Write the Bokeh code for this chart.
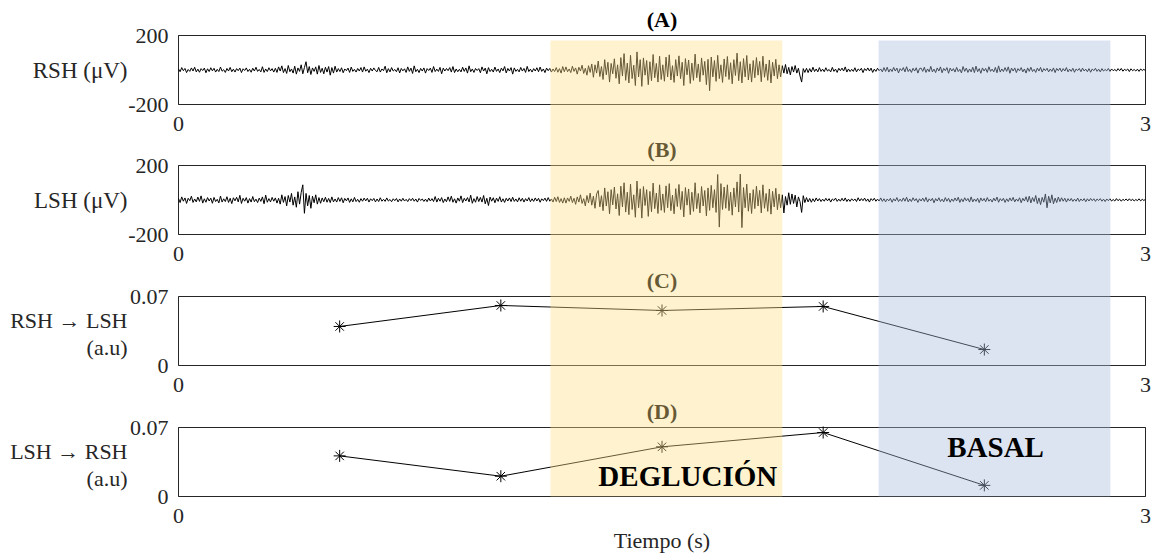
import numpy as np
from bokeh.plotting import figure
from bokeh.models import Range1d
from bokeh.core.properties import value
from bokeh.embed import file_html
from bokeh.resources import INLINE

# ---------------- data ----------------
t_start, t_end = 0, 3
time_ticks = [0, 3]
emg_ticks = [-200, 200]
gc_ticks = [0, 0.07]

rsh = [
    6, -10, 14, -4, 9, -15, 3, -8, 12, -6, 16, -11, 5, -13, 8, -3, 11, -16, 7, -9,
    13, -5, 10, -12, 4, -9, 17, -7, 2, -14, 9, -6, 15, -10, 5, -12, 8, -4, 11, -15,
    7, -3, 12, -9, 4, -13, 10, -6, 16, -8, 3, -11, 19, -14, 6, -9, 13, -5, 8, -12,
    10, -14, 18, -6, 24, -15, 8, -20, 26, -10, 6, -18, 22, -24, 12, -8, 30, -22, 14, 48,
    -16, 20, -26, 12, -8, 18, -24, 26, -14, 10, -22, 16, -12, 20, -30, 14, -18, 22, -12, 8,
    -9, 13, -16, 6, -4, 11, -14, 17, -8, 4, -12, 9, -6, 14, -12, 18, -7, 5, -15, 10,
    -6, 12, -3, -10, 15, -12, 6, -4, 22, -16, 8, -11, 14, -6, 3, -10, 13, -17, 9, -5,
    7, -14, 18, -8, 11, -20, 24, -10, 4, -15, 9, -6, 12, -18, 8, -3, 11, -14, 20, -9,
    5, -8, 15, -22, 11, -6, 9, -4, 14, -12, 20, -15, 6, -10, 4, -11, 16, -8, 12, -18,
    24, -10, 6, -14, 9, -3, 8, -16, 18, -6, 11, -22, 14, -9, 4, -12, 17, -8, 6, -15,
    11, -5, 20, -17, 9, -6, 14, -24, 12, -8, 4, -11, 15, -6, 9, -14, 21, -9, 5, -12,
    8, -6, 13, -10, 17, -8, 6, -15, 11, -4, 9, -12, 6, -9, 14, -13, 8, -18, 20, -10,
    18, -10, 6, -15, 22, -8, 12, -24, 16, -6, 28, -20, 10, -30, 25, -14, 35, -42, 30, -18,
    52, -38, 20, -55, 60, -28, 45, -70, 38, -22, 65, -48, 30, -80, 72, -35, 95, -60, 40, -75,
    85, -50, 28, -90, 105, -40, 60, -95, 70, -30, 55, -85, 48, -62, 90, -45, 38, -70, 80, -55,
    30, -65, 75, -40, 88, -58, 25, -72, 60, -35, 82, -50, 45, -90, 66, -28, 58, -78, 40, -60,
    92, -45, 35, -68, 70, -30, 50, -85, 62, -120, 75, -40, 55, -66, 85, -50, 30, -72, 64, -38,
    78, -55, 42, -80, 60, -32, 98, -62, 48, -75, 66, -40, 84, -58, 36, -70, 55, -45, 72, -30,
    50, -68, 80, -42, 35, -60, 58, -75, 45, -35, 62, -50, 30, -40, 25, -18, 32, -22, 15, -28,
    20, -12, 26, -18, 10, -35, -70, 8, -14, 10, -15, 8, -12, 16, -9, 6, -11, 14, -8, 5,
    -10, 13, -6, 3, -11, 15, -8, 5, -14, 10, -4, 11, -6, 18, -12, 6, -9, 4, -8, 13,
    -11, 6, -3, 10, -15, 8, -4, 12, -6, 11, -14, 5, -8, 10, -4, 6, -11, 14, -8, 16,
    -12, 6, -9, 15, -6, 11, -17, 8, -4, 14, -11, 19, -9, 5, -14, 10, -6, 13, -18, 8,
    11, -8, 16, -14, 6, -10, 21, -11, 5, -15, 12, -6, 18, -16, 9, -4, 14, -19, 11, -6,
    8, -12, 15, -9, 4, -17, 20, -8, 11, -14, 6, -11, 16, -15, 22, -10, 8, -19, 12, -6,
    9, -14, 19, -8, 5, -11, 15, -16, 24, -12, 6, -9, 14, -8, 18, -19, 11, -6, 12, -15,
    8, -5, 14, -11, 6, -18, 12, -8, 16, -9, 4, -14, 11, -6, 15, -12, 8, -4, 10, -11,
    6, -8, 12, -15, 9, -4, 11, -10, 8, -6, 14, -11, 5, -8, 10, -13, 6, -3, 9, -10,
    11, -6, 5, -10, 8, -13, 6, -4, 10, -8, 5, -11, 8, -6, 3, -5, 9, -8, 6, -4,
    3, -6, 8, -4, 9, -7, 4, -3, 6, -9, 7, -4, 3, -6, 5, -8, 6, -3, 4, -5,
]

lsh = [
    9, -15, 18, -7, 12, -20, 10, -4, 22, -14, 6, -11, 17, -8, 24, -18, 7, -13, 14, -6,
    11, -19, 15, -9, 4, -17, 23, -12, 7, -9, 19, -14, 10, -21, 13, -5, 16, -11, 27, -20,
    10, -7, 14, -18, 8, -12, 20, -10, 5, -15, 11, -8, 18, -22, 28, -13, 8, -11, 15, -7,
    12, -18, 10, -24, 30, -14, 20, -34, 26, -12, 38, -30, 18, -42, 48, -24, 44, 88, -77, 38,
    -34, 26, -48, 22, -16, 30, -24, 14, -19, 12, -10, 16, -13, 9, -15, 18, -11, 6, -12, 14,
    -8, 13, -16, 9, -5, 12, -14, 7, -11, 15, -9, 4, -13, 8, -7, 11, -5, 10, -12, 7,
    -4, 9, -11, 6, -9, 13, -7, 4, -8, 12, -6, 3, -10, 7, -4, 9, -11, 6, -7, 10,
    -6, 4, -9, 8, -4, 10, -7, 6, -12, 9, -3, 6, -8, 5, -10, 11, -6, 8, -9, 20,
    -12, 10, -7, 14, -15, 6, -10, 18, -8, 22, -13, 7, -18, 12, -7, 24, -15, 10, -6, 14,
    -11, 28, -19, 8, -13, 20, -9, 15, -12, 26, -22, 10, -32, 17, -7, 13, -16, 11, -8, 19,
    -12, 7, -14, 10, -6, 12, -9, 16, -8, 6, -11, 13, -7, 10, -12, 8, -6, 14, -10, 7,
    -8, 12, -6, 10, -13, 7, -4, 11, -8, 14, -7, 6, -12, 16, -9, 19, -14, 8, -18, 13,
    -18, 12, -8, 22, -15, 10, -25, 18, -12, 30, -20, 8, -34, 26, -16, 40, -30, 22, -48, 35,
    55, -40, 25, -62, 70, -35, 48, -80, 60, -28, 75, -52, 36, -90, 80, -40, 100, -70, 45, -85,
    92, -55, 30, -100, 110, -45, 65, -105, 78, -32, 60, -95, 50, -68, 98, -50, 40, -78, 88, -60,
    35, -72, 82, -45, 95, -62, 28, -80, 66, -38, 90, -55, 50, -98, 72, -30, 64, -85, 45, -66,
    100, -50, 38, -75, 78, -35, 55, -92, 70, -60, 85, -45, 60, -72, 148, -157, 95, -55, 75, -48,
    88, -62, 45, -88, 70, -40, 105, -70, 150, -160, 72, -45, 92, -65, 40, -78, 60, -50, 80, -35,
    56, -75, 88, -48, 38, -66, 64, -82, 50, -40, 68, -56, 35, -45, 30, -75, 20, -30, 42, -25,
    35, -20, 28, -40, 18, -10, -72, 25, -15, 14, -11, 9, -13, 7, -10, 12, -6, 8, -9, 5,
    -7, 10, -5, 8, -12, 6, -3, 11, -8, 5, -7, 10, -6, 12, -9, 5, -8, 7, -4, 6,
    -9, 13, -6, 8, -4, 11, -7, 6, -12, 8, -3, 10, -7, 5, -6, 12, -8, 7, -11, 6,
    -5, 10, -13, 7, -6, 14, -9, 5, -8, 12, -7, 16, -11, 6, -9, 13, -5, 8, -14, 7,
    -6, 11, -8, 15, -12, 7, -5, 10, -16, 8, -6, 13, -9, 5, -11, 14, -7, 10, -13, 6,
    -8, 12, -6, 16, -14, 7, -10, 13, -5, 9, -12, 18, -11, 6, -8, 10, -15, 12, -6, 9,
    -10, 14, -7, 5, -12, 11, -6, 17, -13, 8, -5, 10, -14, 7, -9, 12, -6, 15, -11, 6,
    -7, 13, -16, 10, -6, 19, -12, 22, -17, 14, -9, 26, -21, 12, -27, 15, -13, 35, -45, 22,
    -17, 30, -22, 11, -15, 17, -9, 13, -7, 10, -12, 8, -6, 9, -8, 5, -7, 11, -9, 6,
    -5, 8, -10, 7, -6, 9, -4, 7, -8, 6, -3, 8, -7, 5, -9, 6, -4, 7, -6, 3,
    -6, 8, -4, 5, -7, 4, -3, 6, -5, 7, -4, 5, -6, 3, -4, 7, -5, 4, -3, 5,
]

pair_t = [0.5, 1.0, 1.5, 2.0, 2.5]
rsh_to_lsh = [0.0396, 0.0609, 0.0558, 0.0599, 0.0162]
lsh_to_rsh = [0.0412, 0.0206, 0.0504, 0.0649, 0.0113]

band_start = [1.154, 2.172]
band_end = [1.873, 2.891]
band_names = ["DEGLUCIÓN", "BASAL"]
band_label_x = [1.58, 2.535]
band_label_y = [0.0206, 0.0504]   # in panel (D) units

panel_titles = ["(A)", "(B)", "(C)", "(D)"]
panel_ylabels = [["RSH (μV)"], ["LSH (μV)"], ["RSH → LSH", "(a.u)"], ["LSH → RSH", "(a.u)"]]
xlabel = "Tiempo (s)"

# ---------------- layout (pixels) ----------------
W, H = 1155, 556
box_left_px, box_right_px = 178, 1145
panel_px = [(35, 104), (165, 234), (296, 365), (427, 496)]  # top, bottom
band_px = (40, 496)

FONT = value("Liberation Serif")
AX = "#262626"

pxu = (box_right_px - box_left_px) / (t_end - t_start)
p = figure(width=W, height=H, output_backend="svg", toolbar_location=None,
           x_range=Range1d(t_start - box_left_px / pxu, t_end + (W - box_right_px) / pxu),
           y_range=Range1d(H, 0), min_border=0)
p.min_border_left = p.min_border_right = p.min_border_top = p.min_border_bottom = 0
p.xaxis.visible = False
p.yaxis.visible = False
p.xgrid.visible = False
p.ygrid.visible = False
p.outline_line_color = None
p.background_fill_color = "white"
p.border_fill_color = "white"

limits = [(emg_ticks[0], emg_ticks[-1]), (emg_ticks[0], emg_ticks[-1]),
          (gc_ticks[0], gc_ticks[-1]), (gc_ticks[0], gc_ticks[-1])]
ticks = [emg_ticks, emg_ticks, gc_ticks, gc_ticks]

names = []
for k, ((top, bot), (lo, hi)) in enumerate(zip(panel_px, limits)):
    s = (hi - lo) / (bot - top)
    nm = f"p{k}"
    p.extra_y_ranges[nm] = Range1d(lo - (H - bot) * s, hi + top * s)
    names.append(nm)

# boxes + ticks
for k, nm in enumerate(names):
    lo, hi = limits[k]
    p.quad(left=[t_start], right=[t_end], bottom=[lo], top=[hi], fill_color=None,
           line_color=AX, line_width=1, y_range_name=nm)
    p.ray(x=[t_start] * len(ticks[k]), y=ticks[k], length=8, angle=0, length_units="screen",
          line_color=AX, line_width=1, y_range_name=nm)
    p.ray(x=[t_end] * len(ticks[k]), y=ticks[k], length=8, angle=np.pi, length_units="screen",
          line_color=AX, line_width=1, y_range_name=nm)

# signals
t_r = np.linspace(t_start, t_end, len(rsh))
t_l = np.linspace(t_start, t_end, len(lsh))
p.line(t_r, rsh, line_color="black", line_width=1, y_range_name=names[0])
p.line(t_l, lsh, line_color="black", line_width=1, y_range_name=names[1])

# connectivity
for k, vals in ((2, rsh_to_lsh), (3, lsh_to_rsh)):
    p.line(pair_t, vals, line_color="black", line_width=1, y_range_name=names[k])
    p.scatter(pair_t, vals, marker="asterisk", size=12, line_color="black", line_width=1,
              y_range_name=names[k])

# texts
for k, nm in enumerate(names):
    lo, hi = limits[k]
    p.text(x=[t_start] * len(ticks[k]), y=ticks[k], text=[str(v) for v in ticks[k]],
           text_font=FONT, text_font_size="22px", text_color=AX, text_align="right",
           text_baseline="middle", x_offset=-10, y_range_name=nm)
    p.text(x=time_ticks, y=[lo] * len(time_ticks), text=[str(v) for v in time_ticks],
           text_font=FONT, text_font_size="22px", text_color=AX, text_align="center",
           text_baseline="top", y_offset=12, y_range_name=nm)
    lines = panel_ylabels[k]
    mid = (lo + hi) / 2
    if len(lines) == 1:
        offs = [0]
        fsz = "23px"
    else:
        offs = [-11, 16]
        fsz = "22px"
    for ln, off in zip(lines, offs):
        p.text(x=[t_start], y=[mid], text=[ln], text_font=FONT, text_font_size=fsz,
               text_color=AX, text_align="right", text_baseline="middle",
               x_offset=-51, y_offset=off, y_range_name=nm)
    p.text(x=[(t_start + t_end) / 2], y=[hi], text=[panel_titles[k]], text_font=FONT,
           text_font_size="22px", text_font_style="bold", text_color="black",
           text_align="center", text_baseline="bottom", y_offset=-4, y_range_name=nm)

p.text(x=[(t_start + t_end) / 2], y=[limits[3][0]], text=[xlabel], text_font=FONT,
       text_font_size="22px", text_color=AX, text_align="center", text_baseline="middle",
       y_offset=44, y_range_name=names[3])

# shaded intervals (over the traces)
p.quad(left=band_start, right=band_end, bottom=[band_px[1]] * 2, top=[band_px[0]] * 2,
       fill_color=["#FFDE84", "#A7BBDE"], fill_alpha=0.4, line_color=None)

p.text(x=band_label_x, y=band_label_y, text=band_names, text_font=FONT,
       text_font_size="29px", text_font_style="bold", text_color="black",
       text_align="center", text_baseline="middle", y_range_name=names[3])

open("out.html", "w").write(file_html(p, INLINE))
